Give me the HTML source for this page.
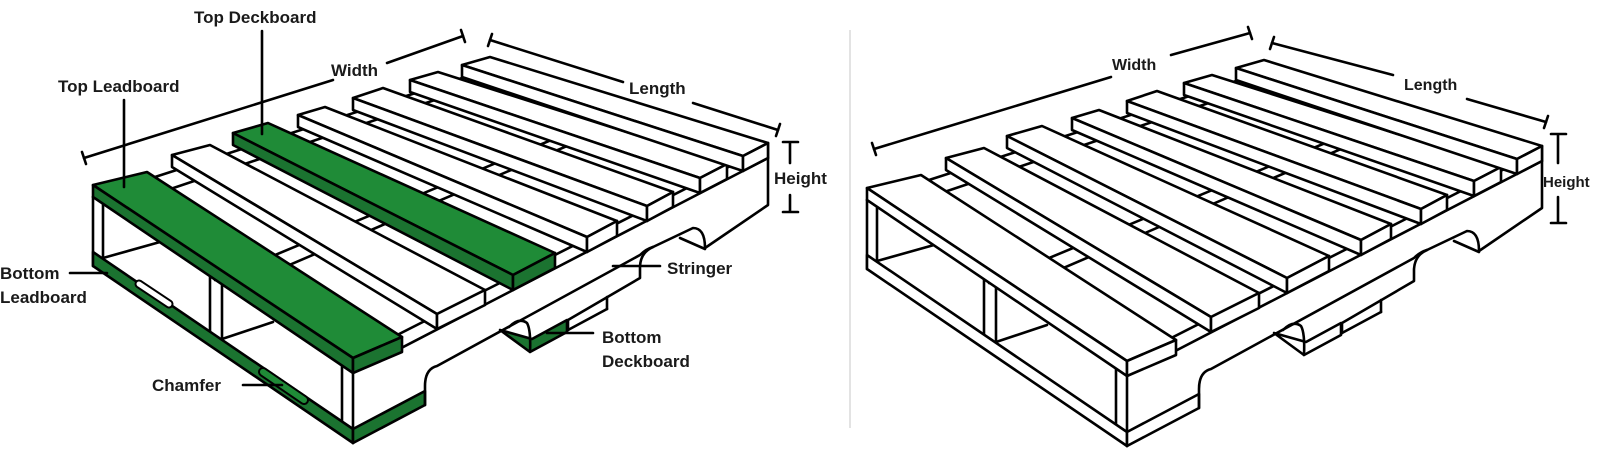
<!DOCTYPE html>
<html><head><meta charset="utf-8"><style>
html,body{margin:0;padding:0;background:#fff;}
svg{display:block;}
text{font-family:"Liberation Sans",sans-serif;font-size:17px;font-weight:bold;fill:#1a1a1a;}
.s{fill:#fff;stroke:#000;stroke-width:2.6;stroke-linejoin:round;stroke-linecap:round;}
.l{fill:none;stroke:#000;stroke-width:2.6;stroke-linejoin:round;stroke-linecap:round;}
.g{fill:var(--g,#fff);stroke:#000;stroke-width:2.6;stroke-linejoin:round;}
.gd{fill:var(--gd,#fff);stroke:#000;stroke-width:2.6;stroke-linejoin:round;}
</style></head><body>
<svg width="1602" height="458" viewBox="0 0 1602 458" xmlns="http://www.w3.org/2000/svg">
<defs>
<g id="p">
  <polygon points="93,197 490,69 768,158 768,205 705,248 640,278 568,330 425,405 353,443 93,266" fill="#fff"/>
  <line class="l" x1="93" y1="197" x2="490" y2="69"/>
  <line class="l" x1="111" y1="209" x2="509" y2="75"/>
  <line class="l" x1="215" y1="280" x2="621" y2="111"/>
  <line class="l" x1="231" y1="290" x2="637" y2="116"/>
  <line class="l" x1="340" y1="364" x2="754" y2="154"/>
  <line class="l" x1="353" y1="373" x2="768" y2="158"/>
  <line class="l" x1="93" y1="197" x2="93" y2="266"/>
  <line class="l" x1="103" y1="204" x2="103" y2="258"/>
  <line class="l" x1="210" y1="276" x2="210" y2="331"/>
  <line class="l" x1="222" y1="284" x2="222" y2="339"/>
  <line class="l" x1="342" y1="366" x2="342" y2="421"/>
  <line class="l" x1="353" y1="373" x2="353" y2="443"/>
  <line class="l" x1="103" y1="258" x2="160" y2="242"/>
  <line class="l" x1="222" y1="339" x2="273" y2="322"/>
  <polygon class="gd" points="93,252 353,429 353,443 93,266"/>
  <polygon class="gd" points="353,429 425,391 425,405 353,443"/>
  <path class="l" d="M425,405 L425,386 Q425,369 437,366 L640,255 Q646,249 653,247 L693,228 Q705,228 705,248 L768,205 L768,143"/>
  <path class="l" d="M653,247 Q641,252 640,266 L640,278 L568,320 L568,330"/>
  <line class="l" x1="607" y1="297" x2="607" y2="309"/>
  <line class="l" x1="607" y1="309" x2="568" y2="330"/>
  <line class="l" x1="680" y1="238" x2="705" y2="249"/>
  <polygon class="gd" points="500,330 530,352 567,332 567,320 532,339"/>
  <path class="l" d="M509,327 Q519,317 527,323 Q531,330 530,352"/>

  <polygon class="g" points="93,185 147,172 402,337 353,358"/>
  <polygon class="gd" points="93,185 353,358 353,373 93,197"/>
  <polygon class="gd" points="353,358 402,337 402,352 353,373"/>

  <polygon class="s" points="172,155 210,145 485,290 437,314"/>
  <polygon class="s" points="172,155 437,314 437,329 172,167"/>
  <polygon class="s" points="437,314 485,290 485,305 437,329"/>

  <polygon class="g" points="233,133 268,123 555,253 513,275"/>
  <polygon class="gd" points="233,133 513,275 513,290 233,145"/>
  <polygon class="gd" points="513,275 555,253 555,268 513,290"/>

  <polygon class="s" points="298,115 325,107 617,221 587,237"/>
  <polygon class="s" points="298,115 587,237 587,252 298,127"/>
  <polygon class="s" points="587,237 617,221 617,236 587,252"/>

  <polygon class="s" points="353,98 383,88 673,192 647,206"/>
  <polygon class="s" points="353,98 647,206 647,221 353,110"/>
  <polygon class="s" points="647,206 673,192 673,207 647,221"/>

  <polygon class="s" points="410,80 438,72 727,164 700,178"/>
  <polygon class="s" points="410,80 700,178 700,193 410,92"/>
  <polygon class="s" points="700,178 727,164 727,179 700,193"/>

  <polygon class="s" points="462,65 490,57 768,143 743,156"/>
  <polygon class="s" points="462,65 743,156 743,171 462,77"/>
  <polygon class="s" points="743,156 768,143 768,158 743,171"/>
</g>
</defs>

<line x1="850" y1="30" x2="850" y2="428" stroke="#d0d0d0" stroke-width="1.2"/>

<use href="#p" style="--g:#1f8b37;--gd:#1b7330"/>
<use href="#p" transform="translate(774,3)"/>

<line x1="139" y1="284" x2="169" y2="304" stroke="#000" stroke-width="9" stroke-linecap="round"/>
<line x1="139" y1="284" x2="169" y2="304" stroke="#fff" stroke-width="5" stroke-linecap="round"/>
<line x1="263" y1="372" x2="304" y2="400" stroke="#000" stroke-width="10" stroke-linecap="round"/>
<line x1="263" y1="372" x2="304" y2="400" stroke="#1f8b37" stroke-width="6" stroke-linecap="round"/>

<g class="l">
  <path d="M84,158 L333,80 M387,63 L463,36"/>
  <path d="M82,152 L86,164 M461,30 L465,42"/>
  <path d="M490,40 L623,82 M693,103 L778,130"/>
  <path d="M492,34 L488,46 M780,124 L776,136"/>
  <path d="M790,142 L790,163 M790,195 L790,212 M783,142 L798,142 M783,212 L798,212"/>
  <path d="M124,100 L124,187"/>
  <path d="M262,31 L262,134"/>
  <path d="M70,273 L107,273"/>
  <path d="M243,385 L282,385"/>
  <path d="M613,266 L660,266"/>
  <path d="M547,333 L593,333"/>
</g>
<text x="58" y="92">Top Leadboard</text>
<text x="194" y="23">Top Deckboard</text>
<text x="331" y="76">Width</text>
<text x="629" y="94">Length</text>
<text x="774" y="184">Height</text>
<text x="0" y="279">Bottom</text>
<text x="0" y="303">Leadboard</text>
<text x="152" y="391">Chamfer</text>
<text x="667" y="274">Stringer</text>
<text x="602" y="343">Bottom</text>
<text x="602" y="367">Deckboard</text>

<g class="l">
  <path d="M874,149 L1111,77 M1171,55 L1250,33"/>
  <path d="M872,143 L876,155 M1248,27 L1252,39"/>
  <path d="M1272,43 L1393,75 M1467,99 L1546,122"/>
  <path d="M1274,37 L1270,49 M1548,116 L1544,128"/>
  <path d="M1558,134 L1558,163 M1558,197 L1558,223 M1551,134 L1566,134 M1551,223 L1566,223"/>
</g>
<text x="1112" y="70" style="font-size:16px">Width</text>
<text x="1404" y="90" style="font-size:16px">Length</text>
<text x="1543" y="187" style="font-size:15px">Height</text>
</svg>
</body></html>
